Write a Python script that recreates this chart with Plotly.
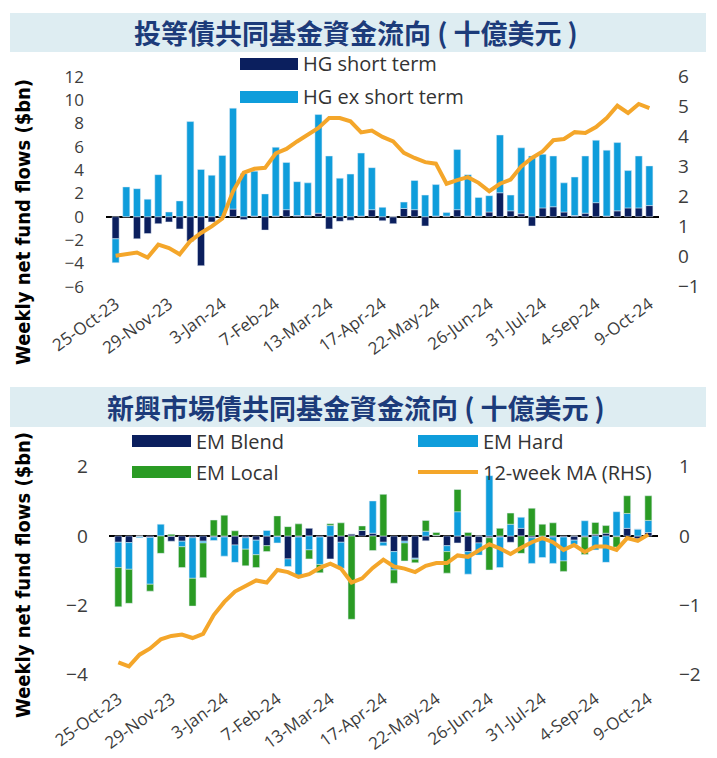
import plotly.graph_objects as go

weeks = ["25-Oct-23", "1-Nov-23", "8-Nov-23", "15-Nov-23", "22-Nov-23", "29-Nov-23",
         "6-Dec-23", "13-Dec-23", "20-Dec-23", "27-Dec-23", "3-Jan-24", "10-Jan-24",
         "17-Jan-24", "24-Jan-24", "31-Jan-24", "7-Feb-24", "14-Feb-24", "21-Feb-24",
         "28-Feb-24", "6-Mar-24", "13-Mar-24", "20-Mar-24", "27-Mar-24", "3-Apr-24",
         "10-Apr-24", "17-Apr-24", "24-Apr-24", "1-May-24", "8-May-24", "15-May-24",
         "22-May-24", "29-May-24", "5-Jun-24", "12-Jun-24", "19-Jun-24", "26-Jun-24",
         "3-Jul-24", "10-Jul-24", "17-Jul-24", "24-Jul-24", "31-Jul-24", "7-Aug-24",
         "14-Aug-24", "21-Aug-24", "28-Aug-24", "4-Sep-24", "11-Sep-24", "18-Sep-24",
         "25-Sep-24", "2-Oct-24", "9-Oct-24"]
tick_weeks = ["25-Oct-23", "29-Nov-23", "3-Jan-24", "7-Feb-24", "13-Mar-24", "17-Apr-24",
              "22-May-24", "26-Jun-24", "31-Jul-24", "4-Sep-24", "9-Oct-24"]

hg_short = [-1.9, 0.0, -1.9, -1.45, -0.6, -0.45, -1.05, -2.1, -4.2, -0.45,
            0.0, 0.65, -0.25, 0.05, -1.15, 0.05, 0.6, 0.1, 0.1, 0.3,
            -1.05, -0.4, -0.3, 0.05, 0.6, -0.35, -0.6, 0.7, 0.6, -0.8,
            0.05, 0.05, 0.6, 0.05, 0.05, 0.4, 2.05, 0.5, 0.25, -0.8,
            0.75, 0.85, 0.4, 0.1, 0.3, 1.2, 0.05, 0.5, 0.75, 0.75, 0.95]
hg_ex_short = [-2.05, 2.55, 2.4, 1.5, 3.6, 0.4, 1.35, 8.15, 4.05, 3.55,
               5.25, 8.65, 3.7, 3.85, 1.95, 5.9, 4.05, 2.9, 2.8, 8.45,
               5.2, 3.3, 3.65, 5.4, 3.6, 0.8, 0.0, 0.55, 2.5, 1.85,
               2.7, 0.3, 5.15, 3.55, 1.6, 1.4, 4.95, 1.35, 5.65, 5.2,
               4.6, 4.35, 2.5, 3.3, 4.9, 5.35, 5.65, 5.85, 3.2, 4.45, 3.4]
hg_ma = [0.03, 0.07, 0.14, -0.03, 0.40, 0.29, 0.08, 0.52, 0.79, 1.01,
         1.27, 2.18, 2.80, 2.93, 2.96, 3.44, 3.59, 3.84, 4.07, 4.29,
         4.62, 4.62, 4.51, 4.14, 4.20, 3.99, 3.84, 3.46, 3.29, 3.15,
         3.10, 2.43, 2.55, 2.65, 2.46, 2.18, 2.43, 2.57, 3.01, 3.29,
         3.51, 3.88, 3.92, 4.15, 4.12, 4.32, 4.62, 5.03, 4.79, 5.09, 4.95]

em_blend = [-0.18, -0.19, -0.02, -0.04, 0.0, -0.15, -0.15, -0.05, -0.15, -0.03,
            -0.03, -0.26, -0.05, -0.12, -0.28, -0.02, -0.66, -0.03, 0.22, -0.03,
            -0.66, -0.18, 0.06, 0.16, 0.08, -0.18, -0.45, -0.15, -0.64, -0.14,
            0.02, -0.28, -0.2, -0.45, -0.2, -0.05, -0.03, -0.18, 0.22, -0.05,
            -0.02, -0.03, -0.03, -0.12, -0.03, 0.05, 0.08, -0.02, 0.22, -0.08, 0.1]
em_hard = [-0.73, -0.77, -0.03, -1.35, 0.34, 0.0, -0.16, -1.17, -0.05, -0.1,
           -0.55, -0.5, -0.33, -0.42, 0.16, -0.18, -0.22, -1.1, -0.4, -0.79,
           0.3, -0.75, 0.0, 0.0, 0.93, -0.1, -0.53, -0.05, -0.03, 0.14,
           0.0, -0.17, 0.7, -0.65, -0.35, 1.74, -0.88, 0.34, 0.32, -0.74,
           -0.6, -0.76, -0.69, -0.12, 0.44, -0.4, -0.76, 0.7, 0.43, 0.2, 0.35]
em_local = [-1.13, -0.98, 0.0, -0.2, -0.5, 0.05, -0.6, -0.8, -1.0, 0.46,
            0.6, 0.15, -0.48, -0.37, -0.17, 0.58, 0.27, 0.35, -0.26, -0.24,
            0.05, 0.38, -2.4, 0.13, -0.42, 1.2, -0.38, -0.52, -0.1, 0.31,
            0.08, -0.62, 0.64, 0.1, 0.0, -0.93, 0.22, 0.32, -0.5, 0.8,
            0.34, 0.38, -0.3, 0.0, -0.5, 0.34, 0.22, -0.3, 0.51, 0.0, 0.71]
em_ma = [-1.82, -1.88, -1.71, -1.62, -1.49, -1.44, -1.42, -1.47, -1.41, -1.14,
         -0.95, -0.80, -0.72, -0.64, -0.67, -0.49, -0.52, -0.59, -0.55, -0.46,
         -0.40, -0.47, -0.67, -0.61, -0.46, -0.34, -0.44, -0.47, -0.52, -0.43,
         -0.39, -0.39, -0.28, -0.30, -0.21, -0.12, -0.18, -0.26, -0.17, -0.09,
         -0.03, -0.09, -0.20, -0.13, -0.23, -0.15, -0.15, -0.20, -0.03, -0.07, 0.02]

W, H = 717, 758
NAVY = "#0b1f5e"
LIGHT = "#0f9ddb"
GREEN = "#2a9b24"
ORANGE = "#f4a62a"
TITLE_C = "#1c3b7a"
TICK_C = "#3c3c3c"
FAM = "Open Sans, Noto Sans, sans-serif"
TICK_FONT_SMALL = dict(family=FAM, size=17, color=TICK_C)
TICK_FONT = dict(family=FAM, size=19, color=TICK_C)


def px(x):
    return x / W


def py(y):
    return 1 - y / H


fig = go.Figure()
fig.add_trace(go.Bar(x=weeks, y=hg_short, marker_color=NAVY, xaxis="x", yaxis="y", name="HG short term"))
fig.add_trace(go.Bar(x=weeks, y=hg_ex_short, marker_color=LIGHT, xaxis="x", yaxis="y", name="HG ex short term"))
fig.add_trace(go.Scatter(x=weeks, y=hg_ma, mode="lines", line=dict(color=ORANGE, width=4),
                         xaxis="x", yaxis="y2", name="HG MA"))
fig.add_trace(go.Bar(x=weeks, y=em_blend, marker_color=NAVY, xaxis="x2", yaxis="y3", name="EM Blend"))
fig.add_trace(go.Bar(x=weeks, y=em_hard, marker_color=LIGHT, xaxis="x2", yaxis="y3", name="EM Hard"))
fig.add_trace(go.Bar(x=weeks, y=em_local, marker_color=GREEN, xaxis="x2", yaxis="y3", name="EM Local"))
fig.add_trace(go.Scatter(x=weeks, y=em_ma, mode="lines", line=dict(color=ORANGE, width=4),
                         xaxis="x2", yaxis="y4", name="12-week MA (RHS)"))

xcommon = dict(type="category", range=[-0.9, 50.9], tickmode="array", tickvals=tick_weeks,
               ticktext=tick_weeks, tickangle=-36, showgrid=False, zeroline=False,
               showline=False, ticks="", automargin=False,
               tickfont=dict(family=FAM, size=17, color=TICK_C))

fig.update_layout(
    width=W, height=H, paper_bgcolor="white", plot_bgcolor="rgba(0,0,0,0)",
    margin=dict(l=0, r=0, t=0, b=0, autoexpand=False), showlegend=False,
    barmode="relative", bargap=0.34,
    xaxis=dict(domain=[px(106), px(659)], anchor="y", **xcommon),
    yaxis=dict(domain=[py(290.2), py(70.8)], range=[-6.3, 12.5], tickvals=list(range(-6, 13, 2)),
               showgrid=False, zeroline=True, zerolinecolor="black", zerolinewidth=1.6,
               showline=False, ticks="", tickfont=TICK_FONT_SMALL, ticklabelstandoff=21, anchor="x",
               automargin=False),
    yaxis2=dict(overlaying="y", side="right", anchor="x", range=[-1.117, 6.194],
                tickvals=list(range(-1, 7)), showgrid=False, zeroline=False, showline=False,
                ticks="", tickfont=TICK_FONT, ticklabelstandoff=18, automargin=False),
    xaxis2=dict(domain=[px(108.8), px(657.9)], anchor="y3", **xcommon),
    yaxis3=dict(domain=[py(685.2), py(456.2)], range=[-4.3, 2.3], tickvals=[-4, -2, 0, 2],
                showgrid=False, zeroline=True, zerolinecolor="black", zerolinewidth=1.6,
                showline=False, ticks="", tickfont=TICK_FONT, ticklabelstandoff=20, anchor="x2",
                automargin=False),
    yaxis4=dict(overlaying="y3", side="right", anchor="x2", range=[-2.15, 1.15],
                tickvals=[-2, -1, 0, 1], showgrid=False, zeroline=False, showline=False,
                ticks="", tickfont=TICK_FONT, ticklabelstandoff=20, automargin=False),
)

shapes = []
annotations = []
# title bars
for (y0, y1, text) in [(13, 52, "投等債共同基金資金流向 ( 十億美元 )"),
                       (387, 427, "新興市場債共同基金資金流向 ( 十億美元 )")]:
    shapes.append(dict(type="rect", xref="paper", yref="paper", x0=px(10), x1=px(706),
                       y0=py(y1), y1=py(y0), fillcolor="#deedf2", line=dict(width=0), layer="below"))
    annotations.append(dict(text="<b>%s</b>" % text, xref="paper", yref="paper", x=px(356),
                            y=py((y0 + y1) / 2), showarrow=False, xanchor="center", yanchor="middle",
                            font=dict(family="Noto Sans CJK TC, Noto Sans CJK SC, sans-serif",
                                      size=27, color=TITLE_C)))

# y axis titles
for yc in [222, 575]:
    annotations.append(dict(text="<b>Weekly net fund flows ($bn)</b>", xref="paper", yref="paper",
                            x=px(23), y=py(yc), showarrow=False, textangle=-90,
                            xanchor="center", yanchor="middle",
                            font=dict(family="Liberation Sans Narrow, DejaVu Sans Condensed, sans-serif",
                                      size=20, color="black")))

LEG_FONT = dict(family=FAM, size=20, color="#333333")


def swatch(x0, x1, yc, color, kind="bar"):
    if kind == "bar":
        shapes.append(dict(type="rect", xref="paper", yref="paper", x0=px(x0), x1=px(x1),
                           y0=py(yc + 6), y1=py(yc - 6), fillcolor=color, line=dict(width=0)))
    else:
        shapes.append(dict(type="line", xref="paper", yref="paper", x0=px(x0), x1=px(x1),
                           y0=py(yc), y1=py(yc), line=dict(color=color, width=4)))


def legtext(x, yc, text):
    annotations.append(dict(text=text, xref="paper", yref="paper", x=px(x), y=py(yc),
                            showarrow=False, xanchor="left", yanchor="middle", font=LEG_FONT))


swatch(240, 298, 64, NAVY)
legtext(301, 64, "HG short term")
swatch(240, 298, 97, LIGHT)
legtext(301, 97, "HG ex short term")

swatch(132, 191, 441, NAVY)
legtext(194, 441, "EM Blend")
swatch(418, 478, 441, LIGHT)
legtext(481, 441, "EM Hard")
swatch(132, 191, 472, GREEN)
legtext(194, 472, "EM Local")
swatch(418, 478, 472, ORANGE, kind="line")
legtext(481, 472, "12-week MA (RHS)")

fig.update_layout(shapes=shapes, annotations=annotations)
fig.write_html("out.html", config={"displayModeBar": False},
               post_script="document.body.style.margin='0px';")
